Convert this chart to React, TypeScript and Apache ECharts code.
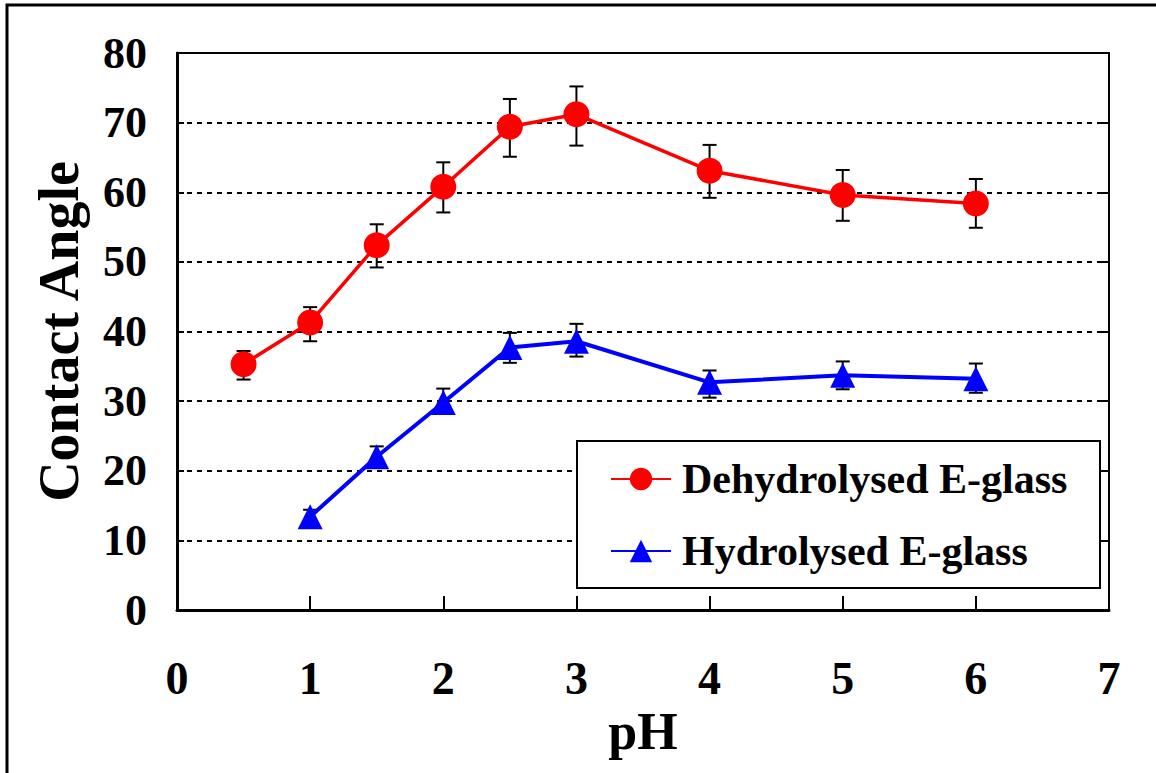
import React, { useEffect, useRef } from "react";
import * as echarts from "echarts";

const phRed = [0.5, 1, 1.5, 2, 2.5, 3, 4, 5, 6];
const angleRed = [35.3, 41.3, 52.4, 60.8, 69.4, 71.2, 63.1, 59.6, 58.4];
const errLowRed = [33.1, 38.6, 49.2, 57.1, 65.1, 66.7, 59.2, 55.9, 54.9];
const errHighRed = [37.2, 43.5, 55.4, 64.3, 73.4, 75.2, 66.8, 63.2, 61.9];

const phBlue = [1, 1.5, 2, 2.5, 3, 4, 5, 6];
const angleBlue = [13.4, 22.0, 29.8, 37.7, 38.6, 32.7, 33.7, 33.2];
const errLowBlue = [12.4, 20.5, 28.2, 35.5, 36.4, 30.5, 31.7, 31.2];
const errHighBlue = [14.4, 23.5, 31.8, 39.8, 41.1, 34.4, 35.7, 35.4];

const xTicks = { min: 0, max: 7, interval: 1 };
const yTicks = { min: 0, max: 80, interval: 10 };

const nameRed = "Dehydrolysed E-glass";
const nameBlue = "Hydrolysed E-glass";
const xTitle = "pH";
const yTitle = "Contact Angle";

const FONT = "'Liberation Serif', 'Times New Roman', serif";

export default function App() {
  const ref = useRef<HTMLDivElement>(null);
  useEffect(() => {
    if (!ref.current) return;
    const chart = echarts.init(ref.current, null, { renderer: "svg" });
    const errData = [
      ...phRed.map((x, i) => [x, errLowRed[i], errHighRed[i]]),
      ...phBlue.map((x, i) => [x, errLowBlue[i], errHighBlue[i]]),
    ];
    const cap = 7;
    const errStyle = { stroke: "#000", lineWidth: 2 };
    const option: any = {
      animation: false,
      backgroundColor: "#fff",
      grid: { left: 177, right: 47, top: 53, bottom: 163, containLabel: false },
      xAxis: [
        {
          type: "value",
          ...xTicks,
          position: "bottom",
          axisLine: { show: true, onZero: false, lineStyle: { color: "#000", width: 3 } },
          axisTick: { show: true, inside: true, length: 14, lineStyle: { color: "#000", width: 2 } },
          axisLabel: { margin: 45, fontSize: 46, fontFamily: FONT, fontWeight: "bold", color: "#000" },
          splitLine: { show: false },
          name: xTitle,
          nameLocation: "middle",
          nameGap: 80,
          nameTextStyle: { fontSize: 52, fontFamily: FONT, fontWeight: "bold", color: "#000" },
        },
        {
          type: "value",
          ...xTicks,
          position: "top",
          axisLine: { show: true, onZero: false, lineStyle: { color: "#000", width: 2 } },
          axisTick: { show: false },
          axisLabel: { show: false },
          splitLine: { show: false },
        },
      ],
      yAxis: [
        {
          type: "value",
          ...yTicks,
          position: "left",
          axisLine: { show: true, onZero: false, lineStyle: { color: "#000", width: 3 } },
          axisTick: { show: true, inside: true, length: 7, lineStyle: { color: "#000", width: 2 } },
          axisLabel: { margin: 30, fontSize: 44, fontFamily: FONT, fontWeight: "bold", color: "#000" },
          splitLine: { show: true, lineStyle: { color: "#000", width: 2, type: [5, 5] } },
          name: yTitle,
          nameLocation: "middle",
          nameGap: 90,
          nameRotate: 90,
          nameTextStyle: { fontSize: 56, fontFamily: FONT, fontWeight: "bold", color: "#000" },
        },
        {
          type: "value",
          ...yTicks,
          position: "right",
          axisLine: { show: true, onZero: false, lineStyle: { color: "#000", width: 2 } },
          axisTick: { show: true, inside: true, length: 7, lineStyle: { color: "#000", width: 2 } },
          axisLabel: { show: false },
          splitLine: { show: false },
        },
      ],
      legend: [
        {
          data: [nameRed],
          left: 610,
          top: 458,
          padding: 0,
          z: 20,
          itemWidth: 60,
          itemHeight: 28,
          textStyle: { fontSize: 42, fontFamily: FONT, fontWeight: "bold", color: "#000", padding: [0, 0, 0, 6] },
        },
        {
          data: [nameBlue],
          left: 610,
          top: 530,
          padding: 0,
          z: 20,
          itemWidth: 60,
          itemHeight: 28,
          textStyle: { fontSize: 42, fontFamily: FONT, fontWeight: "bold", color: "#000", padding: [0, 0, 0, 6] },
        },
      ],
      graphic: [
        {
          type: "rect",
          z: 10,
          shape: { x: 577, y: 441, width: 523, height: 147 },
          style: { fill: "#fff", stroke: "#000", lineWidth: 2 },
        },
        {
          type: "rect",
          z: 10,
          shape: { x: 7, y: 5, width: 1400, height: 1000 },
          style: { fill: "none", stroke: "#000", lineWidth: 3 },
        },
      ],
      series: [
        {
          type: "custom",
          name: "err",
          xAxisIndex: 0,
          yAxisIndex: 0,
          z: 1,
          encode: { x: 0, y: [1, 2] },
          data: errData,
          renderItem: (params: any, api: any) => {
            const x = api.value(0);
            const lo = api.value(1);
            const hi = api.value(2);
            const pHi = api.coord([x, hi]);
            const pLo = api.coord([x, lo]);
            return {
              type: "group",
              children: [
                { type: "line", shape: { x1: pHi[0], y1: pHi[1], x2: pLo[0], y2: pLo[1] }, style: errStyle },
                { type: "line", shape: { x1: pHi[0] - cap, y1: pHi[1], x2: pHi[0] + cap, y2: pHi[1] }, style: errStyle },
                { type: "line", shape: { x1: pLo[0] - cap, y1: pLo[1], x2: pLo[0] + cap, y2: pLo[1] }, style: errStyle },
              ],
            };
          },
        },
        {
          type: "line",
          name: nameRed,
          xAxisIndex: 0,
          yAxisIndex: 0,
          z: 3,
          data: phRed.map((x, i) => [x, angleRed[i]]),
          symbol: "circle",
          symbolSize: 26,
          itemStyle: { color: "#ff0000", borderWidth: 0 },
          lineStyle: { color: "#ff0000", width: 3.5 },
        },
        {
          type: "line",
          name: nameBlue,
          xAxisIndex: 0,
          yAxisIndex: 0,
          z: 3,
          data: phBlue.map((x, i) => [x, angleBlue[i]]),
          symbol: "triangle",
          symbolSize: 25,
          itemStyle: { color: "#0000ff", borderWidth: 0 },
          lineStyle: { color: "#0000ff", width: 4 },
        },
      ],
    };
    chart.setOption(option);
    return () => chart.dispose();
  }, []);
  return <div ref={ref} style={{ position: "fixed", left: 0, top: 0, width: 1156, height: 773 }} />;
}
